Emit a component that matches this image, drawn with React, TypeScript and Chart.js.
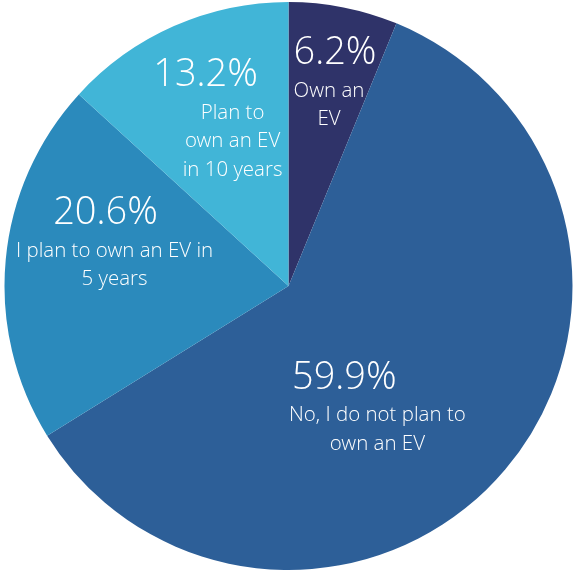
import React, { useEffect, useRef } from "react";
import { Chart, registerables } from "chart.js";

Chart.register(...registerables);

const categories = [
  "Own an EV",
  "No, I do not plan to own an EV",
  "I plan to own an EV in 5 years",
  "Plan to own an EV in 10 years",
];
const values = [6.2, 59.9, 20.6, 13.2];
const percentLabels = ["6.2%", "59.9%", "20.6%", "13.2%"];
const subLabels = [
  ["Own an", "EV"],
  ["No, I do not plan to", "own an EV"],
  ["I plan to own an EV in", "5 years"],
  ["Plan to", "own an EV", "in 10 years"],
];
const colors = ["#2f3369", "#2d5f98", "#2b8abc", "#41b5d7"];

// label placement relative to each arc's geometry
const labelPlacement = [
  { angleFrac: 0.506, radiusFrac: 0.835, subDx: -6, dy: 1 },
  { angleFrac: 0.583, radiusFrac: 0.373, subDx: 33, dy: 3 },
  { angleFrac: 0.72, radiusFrac: 0.693, subDx: 9, dy: 1 },
  { angleFrac: 0.55, radiusFrac: 0.8, subDx: 27, dy: 2 },
];

const labelPlugin = {
  id: "sliceLabels",
  afterDatasetsDraw(chart: any) {
    const ctx = chart.ctx;
    const meta = chart.getDatasetMeta(0);
    meta.data.forEach((arc: any, i: number) => {
      const p = arc.getProps(["x", "y", "startAngle", "endAngle", "outerRadius"], true);
      const place = labelPlacement[i];
      const a = p.startAngle + place.angleFrac * (p.endAngle - p.startAngle);
      const r = p.outerRadius * place.radiusFrac;
      const x = p.x + Math.cos(a) * r;
      const y = p.y + Math.sin(a) * r + place.dy;
      ctx.save();
      ctx.fillStyle = "#ffffff";
      ctx.textAlign = "center";
      ctx.textBaseline = "middle";
      ctx.font = "300 38px 'Open Sans Light', 'Open Sans'";
      ctx.fillText(percentLabels[i], x, y);
      ctx.font = "300 20.5px 'Open Sans Light', 'Open Sans'";
      subLabels[i].forEach((line, j) => {
        ctx.fillText(line, x + place.subDx, y + 37 + j * 28.5);
      });
      ctx.restore();
    });
  },
};

export default function App() {
  const ref = useRef<HTMLCanvasElement>(null);
  useEffect(() => {
    if (!ref.current) return;
    const chart = new Chart(ref.current, {
      type: "pie",
      data: {
        labels: categories,
        datasets: [
          {
            data: values,
            backgroundColor: colors,
            borderWidth: 0,
          },
        ],
      },
      options: {
        responsive: false,
        animation: false,
        layout: { padding: { left: 3, right: 0, top: 2, bottom: 2 } },
        plugins: {
          legend: { display: false },
          tooltip: { enabled: false },
        },
      },
      plugins: [labelPlugin],
    });
    return () => chart.destroy();
  }, []);
  return (
    <div style={{ position: "absolute", left: 0, top: 0, width: 574, height: 572, background: "#ffffff" }}>
      <canvas ref={ref} width={574} height={572} style={{ width: 574, height: 572 }} />
    </div>
  );
}
